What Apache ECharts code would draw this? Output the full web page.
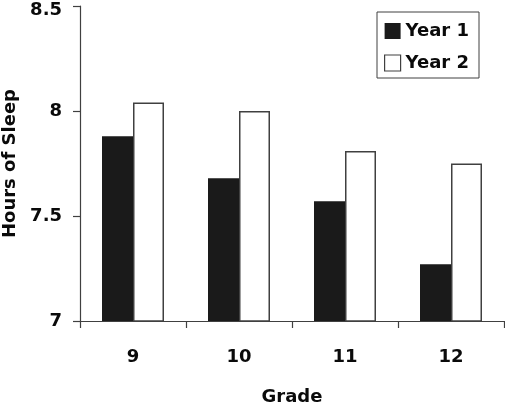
<!DOCTYPE html>
<html>
<head>
<meta charset="utf-8">
<script src="https://cdn.jsdelivr.net/npm/echarts@6/dist/echarts.min.js"></script>
<style>
html,body{margin:0;padding:0;background:#fff;}
#c{width:505px;height:404px;}
</style>
</head>
<body>
<div id="c"></div>
<script>
const categories = ['9', '10', '11', '12'];
const year1 = [7.88, 7.68, 7.57, 7.27];
const year2 = [8.04, 8.00, 7.81, 7.75];
const seriesNames = ['Year 1', 'Year 2'];
const yMin = 7, yMax = 8.5, yStep = 0.5;

const FONT = 'DejaVu Sans';
const AX = '#404040';
const TXT = '#0a0a0a';
const chart = echarts.init(document.getElementById('c'), null, {renderer: 'canvas'});
chart.setOption({
  animation: false,
  backgroundColor: '#fff',
  grid: {left: 80, right: 1, top: 6, bottom: 83, containLabel: false, outerBoundsMode: 'none'},
  legend: {
    orient: 'vertical',
    left: 377, top: 12,
    padding: [9, 10, 5, 7],
    itemGap: 12,
    itemWidth: 16, itemHeight: 16,
    borderColor: AX, borderWidth: 1,
    textStyle: {fontFamily: FONT, fontWeight: 'bold', fontSize: 18, color: TXT, lineHeight: 20},
    data: [
      {name: seriesNames[0], icon: 'rect', itemStyle: {color: '#1a1a1a', borderWidth: 0}},
      {name: seriesNames[1], icon: 'rect', itemStyle: {color: '#fff', borderColor: AX, borderWidth: 1.2}}
    ]
  },
  xAxis: {
    type: 'category',
    data: categories,
    boundaryGap: true,
    name: 'Grade',
    nameLocation: 'middle',
    nameGap: 67,
    nameTextStyle: {fontFamily: FONT, fontWeight: 'bold', fontSize: 18, color: TXT},
    axisLine: {lineStyle: {color: AX, width: 1.2}},
    axisTick: {show: true, inside: false, length: 7, alignWithLabel: false, lineStyle: {color: AX, width: 1.2}},
    axisLabel: {margin: 27, fontFamily: FONT, fontWeight: 'bold', fontSize: 18, color: TXT},
    splitLine: {show: false}
  },
  yAxis: {
    type: 'value',
    min: yMin, max: yMax, interval: yStep,
    name: 'Hours of Sleep',
    nameLocation: 'middle',
    nameRotate: 90,
    nameGap: 58,
    nameTextStyle: {fontFamily: FONT, fontWeight: 'bold', fontSize: 18, color: TXT},
    axisLine: {show: true, lineStyle: {color: AX, width: 1.2}},
    axisTick: {show: true, inside: false, length: 7, lineStyle: {color: AX, width: 1.2}},
    axisLabel: {
      margin: 18, fontFamily: FONT, fontWeight: 'bold', fontSize: 18, color: TXT,
      formatter: function (v) { return v === yMax ? '{top|' + v + '}' : String(v); },
      rich: {top: {fontFamily: FONT, fontWeight: 'bold', fontSize: 18, color: TXT, padding: [8, 0, 0, 0]}}
    },
    splitLine: {show: false}
  },
  series: [
    {
      name: seriesNames[0], type: 'bar', data: year1,
      barWidth: 31, barGap: '0%',
      itemStyle: {color: '#1a1a1a', borderWidth: 0}
    },
    {
      name: seriesNames[1], type: 'bar', data: year2,
      barWidth: 31, barGap: '0%',
      itemStyle: {color: '#fff', borderColor: AX, borderWidth: 1.5}
    }
  ]
});
</script>
</body>
</html>
